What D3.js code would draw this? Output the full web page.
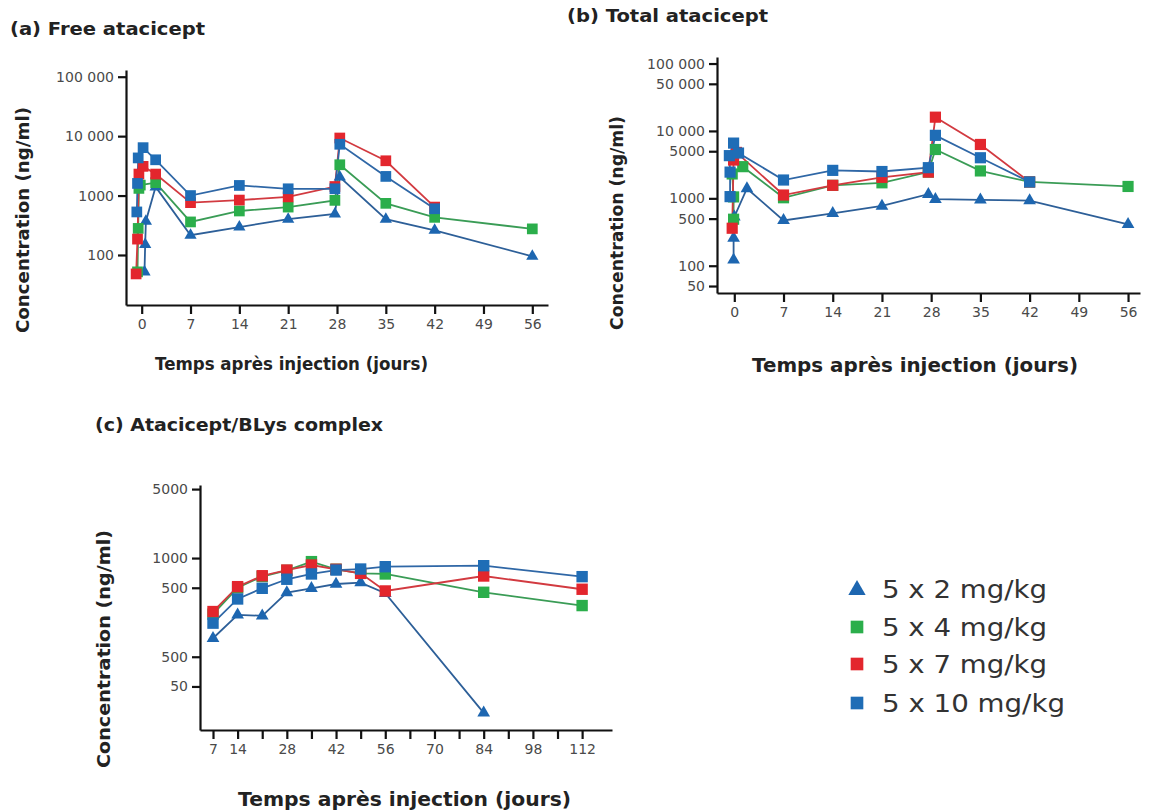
<!DOCTYPE html>
<html><head><meta charset="utf-8">
<script src="https://cdn.jsdelivr.net/npm/d3@7"></script>
<style>
body{margin:0;background:#fff}
text{font-family:"DejaVu Sans","Liberation Sans",sans-serif}
</style>
</head><body>
<svg id="chart" width="1151" height="810"></svg>
<script>
// ---------- series ----------
const seriesNames  = ["5 x 2 mg/kg", "5 x 4 mg/kg", "5 x 7 mg/kg", "5 x 10 mg/kg"];
const seriesColors = ["#1d66b0", "#2bae4b", "#e3262d", "#1f6db6"];
const lineColors   = ["#2d5f98", "#3a9c56", "#d23a40", "#2f67a6"];
const seriesShapes = ["triangle", "square", "square", "square"];

// ---------- (a) Free atacicept ----------
const aDays2  = [0.4, 0.5, 0.6, 2, 7, 14, 21, 27.7, 28.4, 35, 42, 56];
const aConc2  = [52, 150, 370, 1400, 215, 295, 400, 490, 2050, 400, 260, 95];
const aDays4  = [-0.6, -0.5, -0.4, -0.2, 2, 7, 14, 21, 27.7, 28.4, 35, 42, 56];
const aConc4  = [52, 280, 1320, 1500, 1650, 360, 550, 640, 830, 3300, 740, 430, 275];
const aDays7  = [-0.8, -0.6, -0.4, 0.2, 2, 7, 14, 21, 27.7, 28.4, 35, 42];
const aConc7  = [48, 185, 2300, 3100, 2300, 760, 840, 950, 1420, 9300, 3850, 640];
const aDays10 = [-0.7, -0.6, -0.5, 0.2, 2, 7, 14, 21, 27.7, 28.4, 35, 42];
const aConc10 = [530, 1600, 4300, 6400, 4000, 1000, 1480, 1300, 1300, 7300, 2100, 600];
const aXTicks = [0, 7, 14, 21, 28, 35, 42, 49, 56];
const aYTicks = [100000, 10000, 1000, 100];
const aYLabels = ["100 000", "10 000", "1000", "100"];

// ---------- (b) Total atacicept ----------
const bDays2  = [-0.1, -0.1, 0, 1.8, 7, 14, 21, 27.6, 28.6, 35, 42, 56];
const bConc2  = [122, 257, 530, 1400, 470, 600, 770, 1150, 970, 950, 925, 410];
const bDays4  = [-0.1, -0.1, -0.3, 1.2, 7, 14, 21, 27.6, 28.6, 35, 42, 56];
const bConc4  = [490, 1050, 2300, 2950, 1020, 1560, 1700, 2450, 5300, 2550, 1750, 1500];
const bDays7  = [-0.3, -0.1, 0.3, 7, 14, 21, 27.6, 28.6, 35, 42];
const bConc7  = [360, 3700, 4800, 1120, 1560, 2050, 2450, 16000, 6300, 1750];
const bDays10 = [-0.6, -0.6, -0.7, -0.1, 0.6, 7, 14, 21, 27.6, 28.6, 35, 42];
const bConc10 = [1060, 2450, 4300, 6600, 4700, 1870, 2600, 2500, 2850, 8600, 4000, 1750];
const bXTicks = [0, 7, 14, 21, 28, 35, 42, 49, 56];
const bYTicks = [100000, 50000, 10000, 5000, 1000, 500, 100, 50];
const bYLabels = ["100 000", "50 000", "10 000", "5000", "1000", "500", "100", "50"];

// ---------- (c) Atacicept/BLys complex ----------
const cDays2  = [7, 14, 21, 28, 35, 42, 49, 56, 84];
const cConc2  = [154, 266, 260, 446, 494, 546, 563, 440, 27];
const cDays   = [7, 14, 21, 28, 35, 42, 49, 56, 84, 112];
const cConc4  = [270, 500, 650, 750, 920, 770, 700, 690, 450, 330];
const cConc7  = [287, 513, 662, 756, 850, 770, 700, 464, 658, 483];
const cConc10 = [219, 385, 494, 610, 690, 756, 774, 817, 837, 648];
const cXTicks = [7, 14, 21, 28, 35, 42, 49, 56, 63, 70, 77, 84, 91, 98, 105, 112];
const cXLabeled = [7, 14, 28, 42, 56, 70, 84, 98, 112];
const cYTicks = [5000, 1000, 500, 100, 50];
const cYLabels = ["5000", "1000", "500", "500", "50"];

const titleA = "(a) Free atacicept";
const titleB = "(b) Total atacicept";
const titleC = "(c) Atacicept/BLys complex";
const xTitle = "Temps après injection (jours)";
const yTitle = "Concentration (ng/ml)";

const svg = d3.select("#chart");
svg.append("rect").attr("width", 1151).attr("height", 810).attr("fill", "#fff");

function fit(sel, w) {
  sel.attr("textLength", w).attr("lengthAdjust", "spacingAndGlyphs");
  return sel;
}

function drawPanel(cfg) {
  const x = d3.scaleLinear().domain(cfg.xDomain).range([cfg.left, cfg.right]);
  const y = d3.scaleLog().domain(cfg.yDomain).range([cfg.bottom, cfg.top]);

  const gx = svg.append("g").attr("transform", `translate(0,${cfg.bottom})`)
    .call(d3.axisBottom(x).tickValues(cfg.xTicks)
      .tickFormat(d => cfg.xLabeled.includes(d) ? String(d) : "")
      .tickSize(9).tickSizeOuter(0).tickPadding(5));
  const gy = svg.append("g").attr("transform", `translate(${cfg.left},0)`)
    .call(d3.axisLeft(y).tickValues(cfg.yTicks)
      .tickFormat((d, i) => cfg.yLabels[i])
      .tickSize(8).tickSizeOuter(0).tickPadding(4));
  [gx, gy].forEach(g => {
    g.select(".domain").attr("stroke", "#111").attr("stroke-width", 2.2);
    g.selectAll(".tick line").attr("stroke", "#111").attr("stroke-width", 2.2);
    g.selectAll(".tick text").attr("fill", "#4a4a4a").style("font-size", "14px")
      .style("font-family", "'DejaVu Sans', sans-serif");
  });

  cfg.series.forEach(s => {
    const pts = s.days.map((d, i) => [d, s.conc[i]]);
    svg.append("path").datum(pts)
      .attr("fill", "none").attr("stroke", lineColors[s.idx]).attr("stroke-width", 1.8)
      .attr("d", d3.line().x(d => x(d[0])).y(d => y(d[1])));
  });
  cfg.series.forEach(s => {
    const pts = s.days.map((d, i) => [d, s.conc[i]]);
    const isTri = seriesShapes[s.idx] === "triangle";
    svg.append("g").selectAll("path").data(pts).join("path")
      .attr("transform", d => `translate(${x(d[0])},${y(d[1])})`)
      .attr("d", d3.symbol(isTri ? d3.symbolTriangle : d3.symbolSquare, isTri ? cfg.triSize : cfg.sqSize)())
      .attr("fill", seriesColors[s.idx]);
  });
}

// Panel (a)
drawPanel({
  left: 126, right: 548, top: 70, bottom: 305,
  xDomain: [-2.25, 58.25], yDomain: [14.4, 129700],
  xTicks: aXTicks, xLabeled: aXTicks, yTicks: aYTicks, yLabels: aYLabels,
  sqSize: 115, triSize: 65,
  series: [
    {idx: 0, days: aDays2, conc: aConc2},
    {idx: 1, days: aDays4, conc: aConc4},
    {idx: 2, days: aDays7, conc: aConc7},
    {idx: 3, days: aDays10, conc: aConc10}
  ]
});

// Panel (b)
drawPanel({
  left: 717, right: 1140, top: 57, bottom: 293,
  xDomain: [-2.46, 57.7], yDomain: [39.4, 125000],
  xTicks: bXTicks, xLabeled: bXTicks, yTicks: bYTicks, yLabels: bYLabels,
  sqSize: 125, triSize: 70,
  series: [
    {idx: 0, days: bDays2, conc: bConc2},
    {idx: 1, days: bDays4, conc: bConc4},
    {idx: 2, days: bDays7, conc: bConc7},
    {idx: 3, days: bDays10, conc: bConc10}
  ]
});

// Panel (c)
drawPanel({
  left: 200, right: 612, top: 485, bottom: 730,
  xDomain: [3.3, 120.5], yDomain: [18.1, 5500],
  xTicks: cXTicks, xLabeled: cXLabeled, yTicks: cYTicks, yLabels: cYLabels,
  sqSize: 130, triSize: 70,
  series: [
    {idx: 0, days: cDays2, conc: cConc2},
    {idx: 1, days: cDays, conc: cConc4},
    {idx: 2, days: cDays, conc: cConc7},
    {idx: 3, days: cDays, conc: cConc10}
  ]
});

// Titles
const bold = s => s.style("font-weight", "bold").attr("fill", "#222");
fit(bold(svg.append("text").attr("x", 10).attr("y", 35).style("font-size", "17px").text(titleA)), 195);
fit(bold(svg.append("text").attr("x", 567).attr("y", 22).style("font-size", "17px").text(titleB)), 201);
fit(bold(svg.append("text").attr("x", 95).attr("y", 431).style("font-size", "17px").text(titleC)), 288);

// x titles
fit(bold(svg.append("text").attr("x", 155).attr("y", 370).style("font-size", "18px").text(xTitle)), 273);
fit(bold(svg.append("text").attr("x", 752).attr("y", 372).style("font-size", "19px").text(xTitle)), 326);
fit(bold(svg.append("text").attr("x", 238).attr("y", 806).style("font-size", "19px").text(xTitle)), 333);

// y titles
function yt(xb, yc, len) {
  fit(bold(svg.append("text").attr("transform", `translate(${xb},${yc + len / 2}) rotate(-90)`)
    .style("font-size", "17px").text(yTitle)), len);
}
yt(29, 220, 226);
yt(623, 223, 214);
yt(110, 649, 238);

// Legend
const legY = [589, 627, 664, 703];
const legW = [165, 165, 165, 183];
seriesNames.forEach((n, i) => {
  const isTri = seriesShapes[i] === "triangle";
  svg.append("path")
    .attr("transform", `translate(857,${legY[i] + (isTri ? 1 : 0)})`)
    .attr("d", d3.symbol(isTri ? d3.symbolTriangle : d3.symbolSquare, isTri ? 130 : 160)())
    .attr("fill", seriesColors[i]);
  fit(svg.append("text").attr("x", 882).attr("y", legY[i] + 9).attr("fill", "#333")
    .style("font-size", "24px").text(n), legW[i]);
});
</script>
</body></html>
